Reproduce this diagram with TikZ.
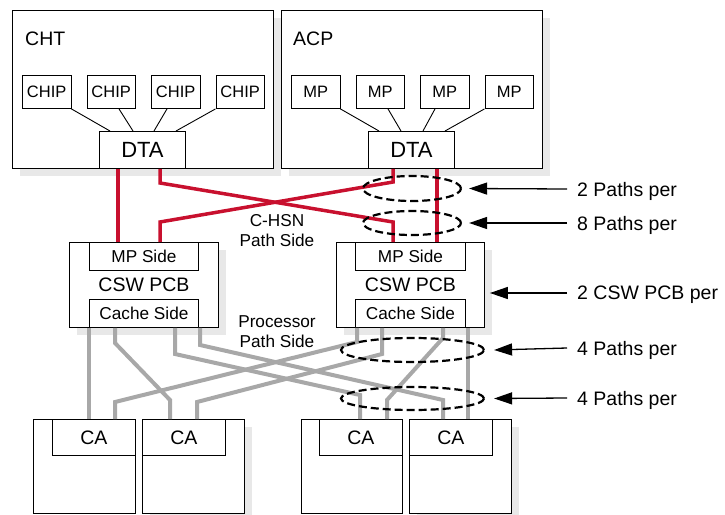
\documentclass[tikz,border=0pt]{standalone}
\usepackage{fontspec}
\setmainfont{Liberation Sans}
\usetikzlibrary{shadows,shapes.geometric,arrows.meta}
\definecolor{redc}{HTML}{C8102E}
\definecolor{greyc}{HTML}{A8A8A8}
\definecolor{shadowc}{HTML}{E8E8E8}
\begin{document}
\begin{tikzpicture}[x=1pt,y=-1pt,
  box/.style={draw, fill=white, line width=0.9pt, inner sep=0pt, anchor=north west, align=center},
  shadowed/.style={drop shadow={shadow xshift=8pt, shadow yshift=-8pt, fill=shadowc, opacity=1}},
  fbig/.style={font=\fontsize{19.5}{22}\selectfont},
  fdta/.style={font=\fontsize{22}{24}\selectfont},
  fmid/.style={font=\fontsize{17.2}{20}\selectfont},
  fsmall/.style={font=\fontsize{16.5}{19}\selectfont},
  txt/.style={inner sep=0pt, text depth=0pt},
  thinline/.style={line width=0.9pt},
  redline/.style={draw=redc, line width=3.5pt},
  greyline/.style={draw=greyc, line width=4pt},
  ring/.style={ellipse, draw, dashed, dash pattern=on 8pt off 4pt, line width=2.2pt, inner sep=0pt},
  arr/.style={line width=1.3pt, -{Triangle[length=18pt,width=12pt]}}
]
\useasboundingbox (0,0) rectangle (725,514);

% ---------- top blocks ----------
\node[box, shadowed, minimum width=261pt, minimum height=158.5pt] (cht) at (12,9.5) {};
\node[box, shadowed, minimum width=261pt, minimum height=158.5pt] (acp) at (281,9.5) {};
\node[txt, fbig, anchor=west] (chtlab) at (25,39) {CHT};
\node[txt, fbig, anchor=west] (acplab) at (293,39) {ACP};

\node[box, fsmall, minimum width=48.5pt, minimum height=33pt] (chip1) at (22,75) {CHIP};
\node[box, fsmall, minimum width=48.5pt, minimum height=33pt] (chip2) at (86.5,75) {CHIP};
\node[box, fsmall, minimum width=48.5pt, minimum height=33pt] (chip3) at (151,75) {CHIP};
\node[box, fsmall, minimum width=48.5pt, minimum height=33pt] (chip4) at (215.5,75) {CHIP};

\node[box, fsmall, minimum width=48.5pt, minimum height=33pt] (mp1) at (291,75) {MP};
\node[box, fsmall, minimum width=48.5pt, minimum height=33pt] (mp2) at (355.5,75) {MP};
\node[box, fsmall, minimum width=48.5pt, minimum height=33pt] (mp3) at (420,75) {MP};
\node[box, fsmall, minimum width=48.5pt, minimum height=33pt] (mp4) at (484.5,75) {MP};

\node[box, fdta, minimum width=86pt, minimum height=37pt] (dtaL) at (99,131) {DTA};
\node[box, fdta, minimum width=86pt, minimum height=37pt] (dtaR) at (368,131) {DTA};

\draw[thinline] (chip1.south east) -- (110,0 |- dtaL.north);
\draw[thinline] (119,0 |- chip2.south) -- (133,0 |- dtaL.north);
\draw[thinline] (167,0 |- chip3.south) -- (154,0 |- dtaL.north);
\draw[thinline] (chip4.south west) -- (176,0 |- dtaL.north);

\draw[thinline] (mp1.south east) -- (379,0 |- dtaR.north);
\draw[thinline] (388,0 |- mp2.south) -- (401,0 |- dtaR.north);
\draw[thinline] (435,0 |- mp3.south) -- (423,0 |- dtaR.north);
\draw[thinline] (mp4.south west) -- (445,0 |- dtaR.north);

% ---------- CSW PCB ----------
\node[box, shadowed, fbig, minimum width=149pt, minimum height=85pt] (cswL) at (69,242) {CSW PCB};
\node[box, fmid, minimum width=109pt, minimum height=28pt] (mpsL) at (89,242) {MP Side};
\node[box, fmid, minimum width=109pt, minimum height=28pt] (cacheL) at (89,299) {Cache Side};

\node[box, shadowed, fbig, minimum width=148pt, minimum height=85pt] (cswR) at (336,242) {CSW PCB};
\node[box, fmid, minimum width=110pt, minimum height=28pt] (mpsR) at (355,242) {MP Side};
\node[box, fmid, minimum width=110pt, minimum height=28pt] (cacheR) at (355,299) {Cache Side};

% ---------- CA boxes ----------
\node[box, minimum width=102pt, minimum height=94pt] (ca1) at (33,419) {};
\node[box, shadowed, minimum width=102pt, minimum height=94pt] (ca2) at (142,419) {};
\node[box, minimum width=101pt, minimum height=94pt] (ca3) at (301,419) {};
\node[box, shadowed, minimum width=102pt, minimum height=94pt] (ca4) at (409,419) {};
\node[box, fbig, minimum width=83pt, minimum height=36pt] (ca1i) at (52,419) {CA};
\node[box, fbig, minimum width=83pt, minimum height=36pt] (ca2i) at (142,419) {CA};
\node[box, fbig, minimum width=83pt, minimum height=36pt] (ca3i) at (319,419) {CA};
\node[box, fbig, minimum width=83pt, minimum height=36pt] (ca4i) at (409,419) {CA};

% ---------- red C-HSN paths ----------
\draw[redline] (118,0 |- dtaL.south) -- (118,0 |- mpsL.north);
\draw[redline] (160,0 |- dtaL.south) -- (160,183) -- (393,222) -- (393,0 |- mpsR.north);
\draw[redline] (393,0 |- dtaR.south) -- (393,182) -- (160,222) -- (160,0 |- mpsL.north);
\draw[redline] (437,0 |- dtaR.south) -- (437,0 |- mpsR.north);

% ---------- grey processor paths ----------
\draw[greyline] (89,0 |- cacheL.south) -- (89,0 |- ca1i.north);
\draw[greyline] (115,0 |- cacheL.south) -- (115,343) -- (170,400) -- (170,0 |- ca2i.north);
\draw[greyline] (175,0 |- cacheL.south) -- (175,354) -- (360,395) -- (360,0 |- ca3i.north);
\draw[greyline] (200,0 |- cacheL.south) -- (200,345) -- (443,400) -- (443,0 |- ca4i.north);
\draw[greyline] (357,0 |- cacheR.south) -- (357,342) -- (115,402) -- (115,0 |- ca1i.north);
\draw[greyline] (382,0 |- cacheR.south) -- (382,354) -- (197,402) -- (197,0 |- ca2i.north);
\draw[greyline] (443,0 |- cacheR.south) -- (443,338) -- (387,400) -- (387,0 |- ca3i.north);
\draw[greyline] (468,0 |- cacheR.south) -- (468,0 |- ca4i.north);

% ---------- middle labels ----------
\node[inner sep=0pt, fmid, align=center] (chsn) at (277,231) {C-HSN\\Path Side};
\node[inner sep=0pt, fmid, align=center] (proc) at (277,332) {Processor\\Path Side};

% ---------- dashed rings ----------
\node[ring, minimum width=98pt, minimum height=25pt] (e1) at (412,188.5) {};
\node[ring, minimum width=98pt, minimum height=24pt] (e2) at (412,223) {};
\node[ring, minimum width=143pt, minimum height=24pt] (e3) at (412.5,350) {};
\node[ring, minimum width=143pt, minimum height=23pt] (e4) at (412.5,398.5) {};

% ---------- right labels and arrows ----------
\node[txt, fbig, anchor=west] (lab1) at (577,189) {2 Paths per};
\node[txt, fbig, anchor=west] (lab2) at (577,223) {8 Paths per};
\node[txt, fbig, anchor=west] (lab3) at (577,293) {2 CSW PCB per};
\node[txt, fbig, anchor=west] (lab4) at (577,348) {4 Paths per};
\node[txt, fbig, anchor=west] (lab5) at (577,398) {4 Paths per};

\draw[arr] ([xshift=-10pt]lab1.west) -- ([xshift=7pt]e1.east);
\draw[arr] ([xshift=-10pt]lab2.west) -- ([xshift=7pt]e2.east);
\draw[arr] ([xshift=-10pt]lab3.west) -- ([xshift=5pt]cswR.east |- lab3.west);
\draw[arr] ([xshift=-10pt]lab4.west) -- ([xshift=9pt]e3.east);
\draw[arr] ([xshift=-10pt]lab5.west) -- ([xshift=9pt]e4.east);
\end{tikzpicture}
\end{document}
